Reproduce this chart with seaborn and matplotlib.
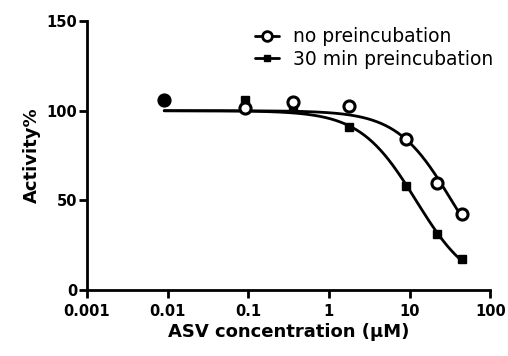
import numpy as np
import pandas as pd
import matplotlib
matplotlib.use("Agg")
import matplotlib.pyplot as plt
import seaborn as sns
from matplotlib.lines import Line2D

# data
conc_um = [0.0091, 0.091, 0.36, 1.78, 9.1, 22.2, 45.2]
no_preinc = [105.7, 101.5, 104.8, 102.4, 84.2, 59.6, 42.4]
preinc_30 = [105.7, 106.0, 101.5, 91.2, 58.3, 31.3, 17.1]
series_names = ["no preincubation", "30 min preincubation"]
x_ticks = [0.001, 0.01, 0.1, 1, 10, 100]
x_tick_labels = ["0.001", "0.01", "0.1", "1", "10", "100"]
y_ticks = [0, 50, 100, 150]


def fit_dose_response(x, y, top=100.0, bottom=0.0):
    # crude least-squares grid search for log IC50 and hill slope
    x = np.asarray(x)[:, None, None]
    y = np.asarray(y)[:, None, None]
    log_ic50 = np.arange(-1.0, 3.0, 0.002)[None, :, None]
    hill = np.arange(0.3, 3.0, 0.01)[None, None, :]
    pred = bottom + (top - bottom) / (1 + (x / 10 ** log_ic50) ** hill)
    sse = ((pred - y) ** 2).sum(axis=0)
    i, j = np.unravel_index(np.argmin(sse), sse.shape)
    return 10 ** log_ic50[0, i, 0], hill[0, 0, j]


def curve(x, ic50, hill, top=100.0, bottom=0.0):
    return bottom + (top - bottom) / (1 + (x / ic50) ** hill)


sns.set_style("ticks")
plt.rcParams['font.family'] = ['DejaVu Sans']
for key in ["text.color", "axes.labelcolor", "xtick.color", "ytick.color"]:
    plt.rcParams[key] = "black"

fig = plt.figure(figsize=(5.08, 3.56), dpi=100)
ax = fig.add_axes([0.171, 0.185, 0.794, 0.756])

x_fit = np.logspace(np.log10(conc_um[0]), np.log10(conc_um[-1]), 300)
frames = []
for name, vals in zip(series_names, [no_preinc, preinc_30]):
    ic50, hill = fit_dose_response(conc_um, vals)
    frames.append(pd.DataFrame({"conc": x_fit, "activity": curve(x_fit, ic50, hill),
                                "series": name}))
fit_df = pd.concat(frames)

sns.lineplot(data=fit_df, x="conc", y="activity", hue="series",
             palette=["black", "black"], linewidth=2.0, legend=False, ax=ax)

ax.plot(conc_um, preinc_30, linestyle="none", marker="s", markersize=5.5,
        color="black", zorder=3, clip_on=False)
ax.plot(conc_um, no_preinc, linestyle="none", marker="o", markersize=8,
        markerfacecolor="white", markeredgecolor="black", markeredgewidth=2.2,
        zorder=4, clip_on=False)
# first point: both markers overlap and look filled
ax.plot(conc_um[:1], no_preinc[:1], linestyle="none", marker="o", markersize=8.5,
        color="black", zorder=5)

ax.set_xscale("log")
ax.set_xlim(0.001, 100)
ax.set_ylim(0, 150)
ax.set_xticks(x_ticks)
ax.set_xticklabels(x_tick_labels)
ax.set_yticks(y_ticks)
ax.minorticks_off()
ax.tick_params(axis="both", direction="out", length=6, width=2.0, labelsize=10.5,
               color="black", labelcolor="black")
ax.tick_params(axis="x", pad=4)
ax.tick_params(axis="y", pad=1)
for lab in ax.get_xticklabels() + ax.get_yticklabels():
    lab.set_fontweight("bold")

sns.despine(ax=ax)
for side in ["left", "bottom"]:
    ax.spines[side].set_linewidth(2.0)
    ax.spines[side].set_color("black")

ax.set_xlabel("ASV concentration (\u03bcM)", fontsize=13, fontweight="bold",
              labelpad=3, color="black")
ax.set_ylabel("Activity%", fontsize=13, fontweight="bold", labelpad=4, color="black")

handles = [
    Line2D([], [], color="black", linewidth=2.0, marker="o", markersize=7,
           markerfacecolor="white", markeredgewidth=2.0),
    Line2D([], [], color="black", linewidth=2.0, marker="s", markersize=5),
]
leg = ax.legend(handles, series_names, loc="upper right", bbox_to_anchor=(1.05, 1.04),
                frameon=False, fontsize=13.5, handlelength=1.3, handletextpad=0.75,
                labelspacing=0.2)
for t in leg.get_texts():
    t.set_color("black")

fig.savefig("out.png", dpi=100)
